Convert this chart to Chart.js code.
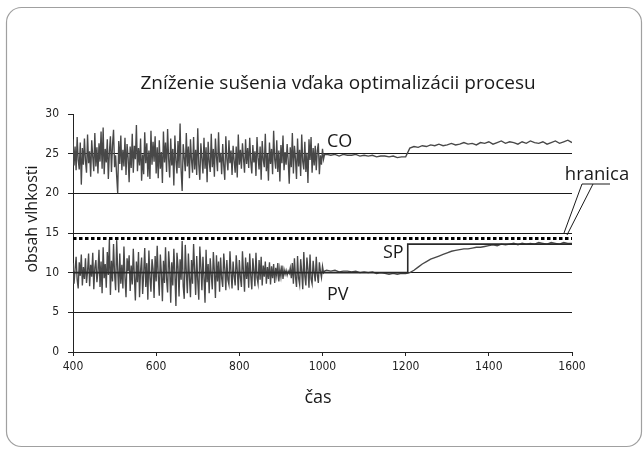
<!DOCTYPE html>
<html><head><meta charset="utf-8">
<script src="https://cdn.jsdelivr.net/npm/chart.js@4.4.1/dist/chart.umd.min.js"></script>
<style>html,body{margin:0;padding:0;background:#fff;}#wrap{width:643px;height:455px;}</style>
</head><body><div id="wrap"><canvas id="c" width="643" height="455"></canvas></div>
<script>
const titleText = 'Zníženie sušenia vďaka optimalizácii procesu';
const yTitle = 'obsah vlhkosti';
const xTitle = 'čas';
const xTicks = [400, 600, 800, 1000, 1200, 1400, 1600];
const yTicks = [0, 5, 10, 15, 20, 25, 30];

// noisy phase: t = 400 ... 1005, every 2.5
const noisyStart = 400, noisyStep = 2.5;
const coNoisy = [
  26.8, 23.5, 25.9, 22.9, 27.1, 24.2, 23.0, 26.4, 21.1, 25.7, 23.6, 26.9,
  24.1, 22.6, 27.4, 23.8, 25.3, 22.1, 26.7, 24.6, 22.8, 27.6, 23.4, 25.8,
  22.5, 26.3, 24.0, 27.8, 23.1, 28.3, 22.4, 25.6, 23.9, 26.8, 21.8, 25.2,
  27.2, 22.7, 26.1, 28.0, 23.3, 24.8, 22.2, 20.0, 26.6, 23.7, 27.3, 22.9,
  25.5, 23.4, 27.0, 22.3, 26.2, 24.5, 21.4, 25.9, 23.2, 27.5, 22.6, 26.0,
  24.3, 28.6, 22.8, 25.7, 23.5, 26.9, 21.6, 24.9, 22.4, 27.7, 23.8, 26.3,
  22.1, 25.4, 21.8, 27.9, 23.6, 26.5, 24.0, 27.2, 22.5, 25.8, 21.9, 26.7,
  23.1, 25.2, 21.3, 27.8, 23.9, 26.4, 22.7, 28.1, 24.3, 22.0, 26.9, 23.5,
  25.6, 21.0, 27.3, 24.1, 22.5, 26.6, 23.2, 28.8, 22.9, 20.3, 26.2, 24.5,
  22.8, 27.6, 23.4, 25.9, 21.9, 26.8, 24.2, 22.6, 27.1, 23.0, 25.5, 22.3,
  28.2, 23.6, 21.7, 26.3, 24.4, 22.5, 27.0, 23.1, 25.8, 21.4, 26.5, 24.0,
  22.7, 27.5, 23.3, 25.6, 22.1, 26.9, 24.6, 22.8, 27.7, 23.9, 25.1, 22.4,
  26.2, 23.5, 21.7, 27.2, 24.3, 22.9, 26.7, 23.8, 25.4, 22.3, 26.0, 24.1,
  22.6, 25.9, 22.0, 27.4, 23.6, 25.5, 23.1, 26.3, 24.4, 22.6, 26.8, 23.7,
  25.7, 23.2, 27.0, 24.0, 22.5, 26.1, 23.9, 25.3, 22.2, 27.1, 24.5, 23.0,
  25.9, 21.7, 26.6, 24.2, 23.3, 27.5, 22.8, 25.0, 21.6, 26.4, 23.7, 25.6,
  22.4, 27.9, 24.3, 23.1, 26.7, 22.7, 25.4, 21.5, 26.1, 23.8, 27.3, 22.9,
  25.2, 23.6, 26.2, 24.1, 21.2, 25.8, 23.3, 27.6, 22.5, 26.0, 24.4, 21.8,
  26.9, 23.4, 25.5, 22.2, 27.4, 24.0, 23.0, 26.5, 22.7, 25.1, 21.3, 26.8,
  24.2, 27.1, 22.6, 25.7, 23.5, 26.0, 22.9, 25.4, 26.3, 22.4, 24.8, 23.6,
  25.6, 24.3, 24.9
];
const pvNoisy = [
  11.2, 8.6, 10.4, 12.0, 9.1, 8.0, 11.3, 9.6, 12.3, 8.4, 10.7, 9.2,
  11.8, 8.7, 10.2, 12.4, 8.3, 11.0, 9.5, 12.5, 7.9, 10.6, 11.6, 8.8,
  10.1, 12.9, 8.2, 11.4, 7.4, 13.2, 9.3, 11.1, 8.1, 12.6, 9.7, 14.2,
  7.2, 11.5, 8.9, 13.6, 9.8, 7.8, 14.1, 10.4, 7.5, 12.4, 8.6, 11.0,
  8.0, 13.3, 9.4, 6.9, 11.8, 10.2, 12.2, 7.7, 10.9, 8.5, 13.0, 9.6,
  6.5, 11.4, 8.8, 12.6, 6.9, 10.3, 11.9, 7.3, 9.9, 13.1, 8.2, 11.2,
  6.6, 12.8, 9.4, 7.6, 11.7, 10.5, 6.8, 12.1, 8.9, 13.4, 9.7, 7.1,
  12.3, 10.0, 6.4, 11.5, 8.7, 13.2, 9.2, 7.5, 12.7, 10.6, 6.2, 11.3,
  8.4, 13.0, 9.9, 5.8, 12.5, 10.8, 7.0, 11.7, 9.1, 14.0, 8.3, 6.7,
  13.5, 10.1, 7.4, 12.4, 9.5, 6.9, 11.6, 8.6, 13.6, 10.3, 7.2, 12.1,
  9.0, 6.6, 13.3, 10.7, 7.8, 12.0, 9.4, 6.2, 12.9, 8.8, 11.1, 7.4,
  11.8, 9.7, 7.9, 12.6, 10.2, 6.8, 12.2, 8.9, 11.4, 7.6, 11.9, 9.3,
  8.2, 12.4, 10.5, 7.8, 11.6, 9.1, 8.5, 12.7, 10.0, 8.0, 11.4, 9.6,
  8.4, 12.2, 10.3, 7.8, 11.6, 9.4, 8.2, 12.7, 10.1, 7.6, 11.9, 9.2,
  11.3, 8.1, 12.4, 9.6, 7.9, 11.8, 10.2, 8.3, 12.5, 9.4, 8.6, 11.6,
  9.1, 12.0, 8.4, 10.9, 9.5, 11.4, 8.6, 10.7, 9.2, 11.3, 8.5, 10.8,
  9.3, 11.1, 8.7, 10.6, 9.6, 11.2, 8.9, 10.5, 9.5, 10.9, 9.2, 10.4,
  9.8, 10.3, 9.7, 10.2, 9.9, 10.6, 9.3, 11.2, 8.6, 11.8, 9.5, 8.2,
  12.1, 9.3, 8.5, 11.7, 10.1, 7.9, 12.6, 9.6, 8.4, 11.9, 10.4, 8.1,
  12.3, 9.2, 8.6, 11.5, 10.0, 8.9, 12.0, 9.7, 8.7, 11.3, 10.2, 9.4,
  10.8, 10.0, 10.2
];

// calm phase: t = 1010 ... 1600, every 10
const calmStart = 1010, calmStep = 10;
const coCalm = [
  24.9, 24.8, 24.9, 24.7, 24.9, 24.8, 24.8, 24.9, 24.7, 24.8,
  24.7, 24.8, 24.6, 24.7, 24.7, 24.6, 24.7, 24.5, 24.6, 24.6,
  25.7, 25.9, 25.8, 26.0, 25.9, 26.1, 26.0, 26.2, 26.0, 26.1,
  26.3, 26.1, 26.2, 26.4, 26.2, 26.3, 26.1, 26.4, 26.3, 26.5,
  26.2, 26.4, 26.6, 26.3, 26.5, 26.4, 26.2, 26.5, 26.3, 26.6,
  26.4, 26.3, 26.5, 26.2, 26.4, 26.6, 26.3, 26.5, 26.7, 26.4
];
const pvCalm = [
  10.3, 10.2, 10.3, 10.1, 10.2, 10.2, 10.1, 10.2, 10.0, 10.1,
  10.0, 10.1, 9.9, 10.0, 9.9, 9.8, 9.9, 9.8, 9.9, 9.9,
  10.0, 10.3, 10.7, 11.1, 11.4, 11.7, 11.9, 12.1, 12.3, 12.5,
  12.7, 12.8, 12.9, 13.0, 13.0, 13.1, 13.2, 13.2, 13.3, 13.4,
  13.5, 13.4, 13.6, 13.5, 13.6, 13.7, 13.5, 13.7, 13.6, 13.7,
  13.6, 13.8, 13.7, 13.6, 13.8, 13.7, 13.6, 13.8, 13.7, 13.7
];

const spTimes = [400, 1205, 1600];
const spValues = [10, 13.6, 13.6];
const limitTimes = [400, 1600];
const limitValues = [14.3, 14.3];

function buildSeries(noisy, calm) {
  const a = noisy.map((v, i) => ({ x: noisyStart + i * noisyStep, y: v }));
  const b = calm.map((v, i) => ({ x: calmStart + i * calmStep, y: v }));
  return a.concat(b);
}
function pairs(xs, ys) { return xs.map((x, i) => ({ x: x, y: ys[i] })); }

const FONT = "'Open Sans', 'Noto Sans', sans-serif";
const TICKFONT = "'Liberation Sans Narrow', 'DejaVu Sans Condensed', 'Liberation Sans', sans-serif";

const decor = {
  id: 'decor',
  beforeDraw(chart) {
    const ctx = chart.ctx;
    ctx.save();
    ctx.fillStyle = '#fff';
    ctx.fillRect(0, 0, chart.width, chart.height);
    ctx.strokeStyle = '#a0a0a0';
    ctx.lineWidth = 1.2;
    ctx.beginPath();
    ctx.roundRect(6.5, 7.5, 635, 439, 15);
    ctx.stroke();
    ctx.restore();
  },
  afterDraw(chart) {
    const ctx = chart.ctx;
    ctx.save();
    ctx.fillStyle = '#1a1a1a';
    ctx.textAlign = 'center';
    ctx.textBaseline = 'alphabetic';
    ctx.font = '19px ' + FONT;
    ctx.fillText(titleText, 338, 89);
    ctx.font = '18px ' + FONT;
    ctx.fillText(xTitle, 318, 403);
    ctx.save();
    ctx.translate(37, 219);
    ctx.rotate(-Math.PI / 2);
    ctx.font = '16px ' + FONT;
    ctx.fillText(yTitle, 0, 0);
    ctx.restore();
    ctx.font = '18px ' + FONT;
    ctx.textAlign = 'left';
    ctx.fillText('CO', 327, 147);
    ctx.fillText('PV', 327, 300);
    ctx.fillText('SP', 383, 258);
    ctx.font = '18.5px ' + FONT;
    ctx.textAlign = 'center';
    ctx.fillText('hranica', 597, 180);
    ctx.strokeStyle = '#1a1a1a';
    ctx.lineWidth = 1;
    ctx.beginPath();
    ctx.moveTo(582, 184); ctx.lineTo(610, 184);
    ctx.moveTo(582, 184); ctx.lineTo(564, 233);
    ctx.moveTo(593, 184); ctx.lineTo(567, 235);
    ctx.stroke();
    ctx.restore();
  }
};

new Chart(document.getElementById('c'), {
  type: 'line',
  data: {
    datasets: [
      { label: 'SP', data: pairs(spTimes, spValues), stepped: true, borderColor: '#2a2a2a', borderWidth: 1.6, pointRadius: 0, order: 0 },
      { label: 'hranica', data: pairs(limitTimes, limitValues), borderColor: '#000', borderWidth: 3, borderDash: [3.5, 2.5], pointRadius: 0, order: 1 },
      { label: 'CO', data: buildSeries(coNoisy, coCalm), borderColor: '#484848', borderWidth: 1.35, pointRadius: 0, tension: 0, order: 2 },
      { label: 'PV', data: buildSeries(pvNoisy, pvCalm), borderColor: '#484848', borderWidth: 1.35, pointRadius: 0, tension: 0, order: 3 }
    ]
  },
  options: {
    responsive: false,
    animation: false,
    devicePixelRatio: 1,
    layout: { padding: { left: 0, right: 71, top: 114, bottom: 0 } },
    plugins: { legend: { display: false }, tooltip: { enabled: false }, title: { display: false } },
    scales: {
      x: {
        type: 'linear', min: 400, max: 1600,
        afterBuildTicks: s => { s.ticks = xTicks.map(v => ({ value: v })); },
        afterFit: s => { s.height = 455 - 352; },
        grid: { drawOnChartArea: false, drawTicks: true, tickLength: 4, tickColor: '#222' },
        border: { display: true, color: '#222', width: 1 },
        ticks: { color: '#222', padding: 4, maxRotation: 0, callback: v => String(v), font: { family: TICKFONT, size: 12 } }
      },
      y: {
        type: 'linear', min: 0, max: 30,
        afterBuildTicks: s => { s.ticks = yTicks.map(v => ({ value: v })); },
        afterFit: s => { s.width = 73; },
        grid: {
          color: c => (c.tick && (c.tick.value === 0 || c.tick.value === 30)) ? 'rgba(0,0,0,0)' : '#1a1a1a',
          tickColor: '#222', tickLength: 5, lineWidth: 1
        },
        border: { display: true, color: '#222', width: 1 },
        ticks: { color: '#222', padding: 9, callback: v => String(v), font: { family: TICKFONT, size: 12 } }
      }
    }
  },
  plugins: [decor]
});
</script></body></html>
